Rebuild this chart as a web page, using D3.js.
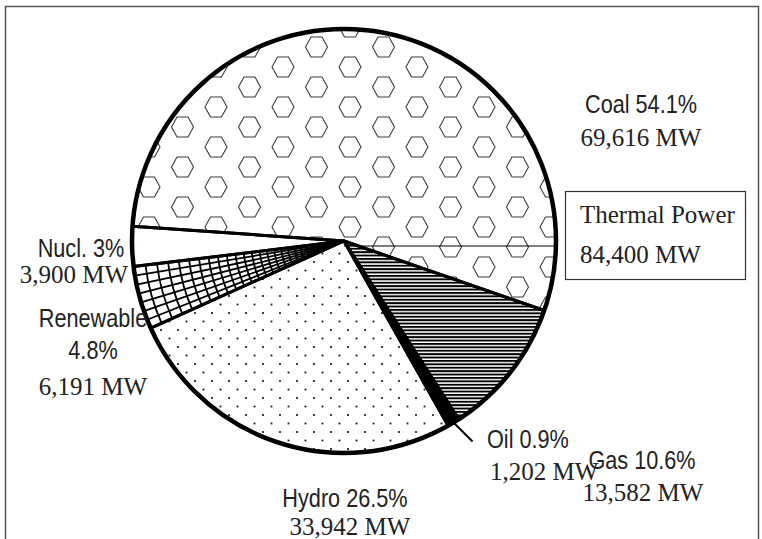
<!DOCTYPE html>
<meta charset="utf-8">
<head>
  <script src="https://d3js.org/d3.v7.min.js"></script>
  <style>
    body { margin: 0; background: #fff; }
    .pct { font-family: "Liberation Sans", Arial, sans-serif; font-size: 25.5px; fill: #222; }
    .mw { font-family: "Liberation Serif", "Times New Roman", serif; font-size: 25px; fill: #222; }
  </style>
</head>
<body>
<div id="chart"></div>
<script>
// data
var sources = ["Coal", "Gas", "Oil", "Hydro", "Renewable", "Nucl."];
var capacity = [69616, 13582, 1202, 33942, 6191, 3900];
var shares = ["54.1%", "10.6%", "0.9%", "26.5%", "4.8%", "3%"];
var thermalLabel = "Thermal Power";
var thermalCapacity = 84400;

var width = 762, height = 539;
var cx = 344, cy = 241, radius = 212;
var narrow = 0.85;   // condensed look for the sans labels

var svg = d3.select("#chart").append("svg")
    .attr("width", width)
    .attr("height", height);

var defs = svg.append("defs");

// hexagons for coal
var hexPat = defs.append("pattern")
    .attr("id", "hex")
    .attr("patternUnits", "userSpaceOnUse")
    .attr("width", 67).attr("height", 40);
var hexPts = [[-11, 0], [-5.5, -10], [5.5, -10], [11, 0], [5.5, 10], [-5.5, 10]];
[[6, 26], [73, 26], [39.5, 6], [39.5, 46]].forEach(function(c) {
  hexPat.append("polygon")
      .attr("points", hexPts.map(function(p) { return (p[0] + c[0]) + "," + (p[1] + c[1]); }).join(" "))
      .attr("fill", "none")
      .attr("stroke", "#3a3a3a")
      .attr("stroke-width", 1.1);
});

// horizontal stripes for gas
var stripePat = defs.append("pattern")
    .attr("id", "stripes")
    .attr("patternUnits", "userSpaceOnUse")
    .attr("width", 10).attr("height", 3.4);
stripePat.append("rect").attr("width", 10).attr("height", 1.9).attr("fill", "#000");

// dots for hydro
var dotPat = defs.append("pattern")
    .attr("id", "dots")
    .attr("patternUnits", "userSpaceOnUse")
    .attr("width", 17).attr("height", 17);
[[4, 4], [12.5, 12.5]].forEach(function(c) {
  dotPat.append("rect").attr("x", c[0] - 0.9).attr("y", c[1] - 0.9)
      .attr("width", 1.8).attr("height", 1.8).attr("fill", "#111");
});

var fills = {
  "Coal": "url(#hex)",
  "Gas": "url(#stripes)",
  "Oil": "#000",
  "Hydro": "url(#dots)",
  "Renewable": "#fff",
  "Nucl.": "#fff"
};

var data = sources.map(function(s, i) { return {name: s, value: capacity[i], share: shares[i]}; });

var pie = d3.pie()
    .sort(null)
    .value(function(d) { return d.value; })
    .startAngle(-86 * Math.PI / 180)
    .endAngle(274 * Math.PI / 180);

var arcs = pie(data);
var arc = d3.arc().innerRadius(0).outerRadius(radius);

// frame
svg.append("rect")
    .attr("x", 5.5).attr("y", 6.5)
    .attr("width", 753).attr("height", 600)
    .attr("fill", "none")
    .attr("stroke", "#555")
    .attr("stroke-width", 1.5);

var g = svg.append("g").attr("transform", "translate(" + cx + "," + cy + ")");

g.selectAll("path.fill")
  .data(arcs)
  .enter()
  .append("path")
    .attr("class", "fill")
    .attr("d", arc)
    .attr("fill", function(d) { return fills[d.data.name]; });

// perspective grid inside renewable slice
var ren = arcs[4];
defs.append("clipPath").attr("id", "renClip")
  .append("path")
    .attr("d", arc(ren));
var grid = g.append("g").attr("clip-path", "url(#renClip)");
var nRays = 7;
for (var k = 1; k < nRays; k++) {
  var a = ren.startAngle + (ren.endAngle - ren.startAngle) * k / nRays;
  grid.append("line")
      .attr("x1", 0).attr("y1", 0)
      .attr("x2", Math.sin(a) * radius).attr("y2", -Math.cos(a) * radius)
      .attr("stroke", "#000").attr("stroke-width", 1.8);
}
var r = radius - 12;
while (r > 6) {
  grid.append("path")
      .attr("d", d3.arc().innerRadius(r).outerRadius(r)
        .startAngle(ren.startAngle).endAngle(ren.endAngle)())
      .attr("fill", "none")
      .attr("stroke", "#000").attr("stroke-width", 1.8);
  r -= 4.5 + 7.5 * r / radius;
}

// thermal divider inside the coal slice
g.append("line")
    .attr("x1", 0).attr("y1", 5)
    .attr("x2", radius).attr("y2", 5)
    .attr("stroke", "#000").attr("stroke-width", 1);

// slice outlines
g.selectAll("path.edge")
  .data(arcs)
  .enter()
  .append("path")
    .attr("class", "edge")
    .attr("d", arc)
    .attr("fill", "none")
    .attr("stroke", "#000")
    .attr("stroke-width", 3)
    .attr("stroke-linejoin", "round");

g.append("circle")
    .attr("r", radius)
    .attr("fill", "none")
    .attr("stroke", "#000")
    .attr("stroke-width", 4.5);

// oil leader line
var oil = arcs[2];
var oilA = (oil.startAngle + oil.endAngle) / 2;
var ox = Math.sin(oilA) * radius, oy = -Math.cos(oilA) * radius;
g.append("line")
    .attr("x1", ox).attr("y1", oy)
    .attr("x2", ox + 19).attr("y2", oy + 19)
    .attr("stroke", "#000").attr("stroke-width", 2);

// label layout
var fmt = d3.format(",");
var layout = {
  "Coal":      {anchor: "middle", lines: [[641, 113, "pct"], [641, 146, "mw"]]},
  "Gas":       {anchor: "middle", lines: [[642, 469, "pct"], [643, 501, "mw"]]},
  "Oil":       {anchor: "start",  lines: [[487, 448, "pct"], [490, 480, "mw"]]},
  "Hydro":     {anchor: "middle", lines: [[345, 507, "pct"], [350, 535, "mw"]]},
  "Renewable": {anchor: "middle", lines: [[93, 327, "name"], [93, 359, "share"], [93, 395, "mw"]]},
  "Nucl.":     {anchor: "middle", lines: [[81, 257, "pct"], [74, 283, "mw"]]}
};

data.forEach(function(d) {
  var L = layout[d.name];
  L.lines.forEach(function(ln) {
    var txt, cls;
    if (ln[2] === "pct") { txt = d.name + " " + d.share; cls = "pct"; }
    else if (ln[2] === "name") { txt = d.name; cls = "pct"; }
    else if (ln[2] === "share") { txt = d.share; cls = "pct"; }
    else { txt = fmt(d.value) + " MW"; cls = "mw"; }
    var sx = cls === "pct" ? narrow : 1;
    svg.append("text")
        .attr("class", cls)
        .attr("transform", "translate(" + ln[0] + "," + ln[1] + ") scale(" + sx + ",1)")
        .attr("text-anchor", L.anchor)
        .text(txt);
  });
});

// thermal power box
svg.append("rect")
    .attr("x", 565.5).attr("y", 191.5)
    .attr("width", 180).attr("height", 88)
    .attr("fill", "#fff")
    .attr("stroke", "#333")
    .attr("stroke-width", 1.2);
svg.append("text").attr("class", "mw").attr("x", 580).attr("y", 223).text(thermalLabel);
svg.append("text").attr("class", "mw").attr("x", 580).attr("y", 263).text(fmt(thermalCapacity) + " MW");
</script>
</body>
